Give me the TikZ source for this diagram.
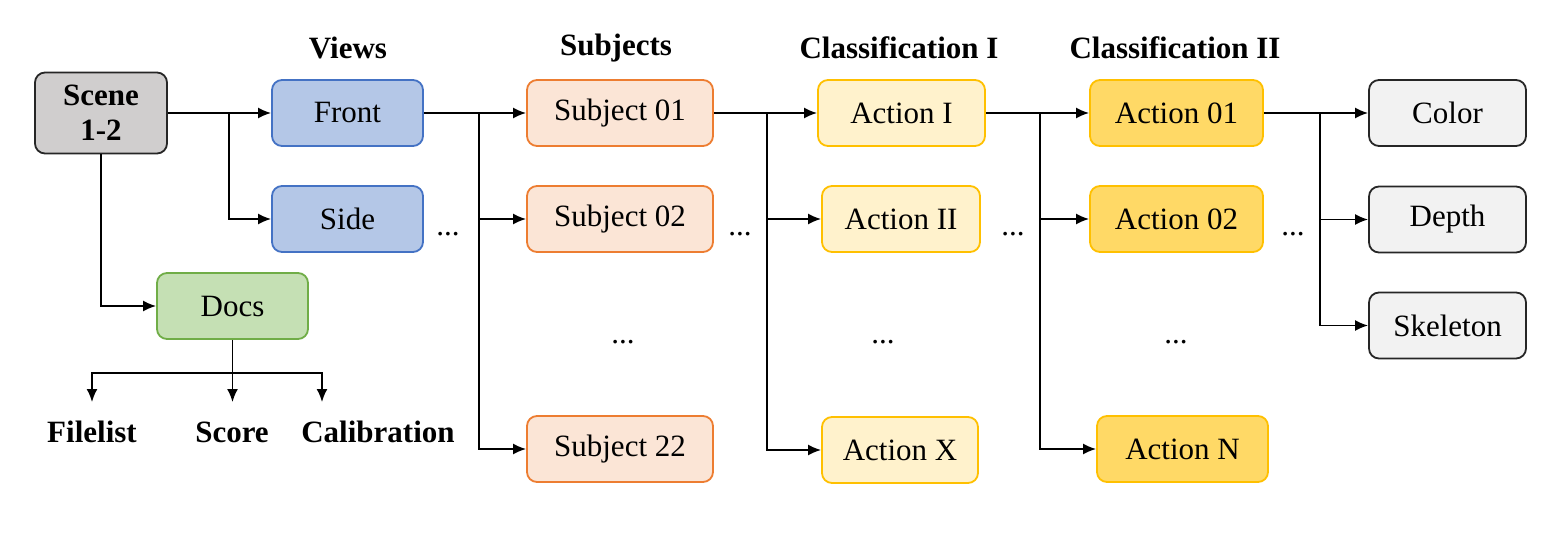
\documentclass[tikz,border=0pt]{standalone}
\usepackage{fontspec}
\setmainfont{Liberation Serif}
\usepackage{tikz}
\usetikzlibrary{arrows.meta}
\definecolor{SceneGray}{HTML}{D0CECE}
\definecolor{ViewFill}{HTML}{B4C7E7}
\definecolor{ViewLine}{HTML}{4472C4}
\definecolor{DocFill}{HTML}{C5E0B4}
\definecolor{DocLine}{HTML}{70AD47}
\definecolor{SubjFill}{HTML}{FBE5D6}
\definecolor{SubjLine}{HTML}{ED7D31}
\definecolor{ActLight}{HTML}{FFF2CC}
\definecolor{ActDark}{HTML}{FFD966}
\definecolor{ActLine}{HTML}{FFC000}
\definecolor{OutFill}{HTML}{F2F2F2}

\begin{document}
\begin{tikzpicture}[x=0.5pt,y=-0.5pt,>={Latex[length=6.5pt,width=5.5pt]},
  font=\fontsize{15.5}{18}\selectfont,
  every path/.style={line width=0.9pt},
  box/.style={rounded corners=5pt,line width=0.9pt,minimum height=33pt,inner sep=0pt},
  scenebox/.style={box,fill=SceneGray,draw=black!85,minimum width=66pt,minimum height=40.5pt,
    align=center,font=\fontsize{15.5}{17.5}\selectfont\bfseries},
  viewbox/.style={box,fill=ViewFill,draw=ViewLine,minimum width=75.5pt},
  docbox/.style={box,fill=DocFill,draw=DocLine,minimum width=75.5pt},
  subjbox/.style={box,fill=SubjFill,draw=SubjLine,minimum width=93pt},
  clsbox/.style={box,fill=ActLight,draw=ActLine},
  actbox/.style={box,fill=ActDark,draw=ActLine},
  outbox/.style={box,fill=OutFill,draw=black!85,minimum width=78.5pt},
  head/.style={font=\fontsize{15.5}{18}\selectfont\bfseries}]
  \useasboundingbox (0,0) rectangle (1563,540);

  \node[head] (hviews) at (348,48) {Views};
  \node[head] (hsubj) at (616,48) {Subjects};
  \node[head] (hcls) at (899,48) {Classification I};
  \node[head] (hact) at (1175,48) {Classification II};

  \node[scenebox] (scene) at (101,113) {Scene\\1-2};
  \node[viewbox] (front) at (347.5,113) {Front};
  \node[viewbox] (side) at (347.5,219) {Side};
  \node[docbox] (docs) at (232.5,306) {Docs};

  \node[subjbox] (s01) at (620,113) {Subject 01};
  \node[subjbox] (s02) at (620,219) {Subject 02};
  \node[subjbox] (s22) at (620,449) {Subject 22};

  \node[clsbox,minimum width=83.5pt] (aI) at (901.5,113) {Action I};
  \node[clsbox,minimum width=79pt] (aII) at (901,219) {Action II};
  \node[clsbox,minimum width=78pt] (aX) at (900,450) {Action X};

  \node[actbox,minimum width=86.5pt] (a01) at (1176.5,113) {Action 01};
  \node[actbox,minimum width=86.5pt] (a02) at (1176.5,219) {Action 02};
  \node[actbox,minimum width=85.5pt] (aN) at (1182.5,449) {Action N};

  \node[outbox] (color) at (1447.5,113) {Color};
  \node[outbox] (depth) at (1447.5,219.5) {Depth};
  \node[outbox] (skel) at (1447.5,325.5) {Skeleton};

  \node (d1) at (448,234) {...};
  \node (d2) at (740,234) {...};
  \node (d3) at (1013,234) {...};
  \node (d4) at (1293,234) {...};
  \node (v1) at (623,342) {...};
  \node (v2) at (883,342) {...};
  \node (v3) at (1176,342) {...};

  \node[head] (filelist) at (92,432) {Filelist};
  \node[head] (score) at (232,432) {Score};
  \node[head] (calib) at (378,432) {Calibration};

  \coordinate (b1) at (229,113);
  \coordinate (b2) at (479,113);
  \coordinate (b3) at (767,113);
  \coordinate (b4) at (1040,113);
  \coordinate (b5) at (1320,113);
  \coordinate (dsplit) at (232.5,373);
  \coordinate (f1) at (92,402);
  \coordinate (f2) at (232.5,402);
  \coordinate (f3) at (322,402);

  \draw[->] (scene.east) -- (front.west);
  \draw[->] (b1) |- (side.west);
  \draw[->] (scene.south) |- (docs.west);
  \draw[->] (docs.south) -- (f2);
  \draw[->] (dsplit) -| (f1);
  \draw[->] (dsplit) -| (f3);

  \draw[->] (front.east) -- (s01.west);
  \draw[->] (b2) |- (s02.west);
  \draw[->] (b2) |- (s22.west);

  \draw[->] (s01.east) -- (aI.west);
  \draw[->] (b3) |- (aII.west);
  \draw[->] (b3) |- (aX.west);

  \draw[->] (aI.east) -- (a01.west);
  \draw[->] (b4) |- (a02.west);
  \draw[->] (b4) |- (aN.west);

  \draw[->] (a01.east) -- (color.west);
  \draw[->] (b5) |- (depth.west);
  \draw[->] (b5) |- (skel.west);
\end{tikzpicture}
\end{document}
